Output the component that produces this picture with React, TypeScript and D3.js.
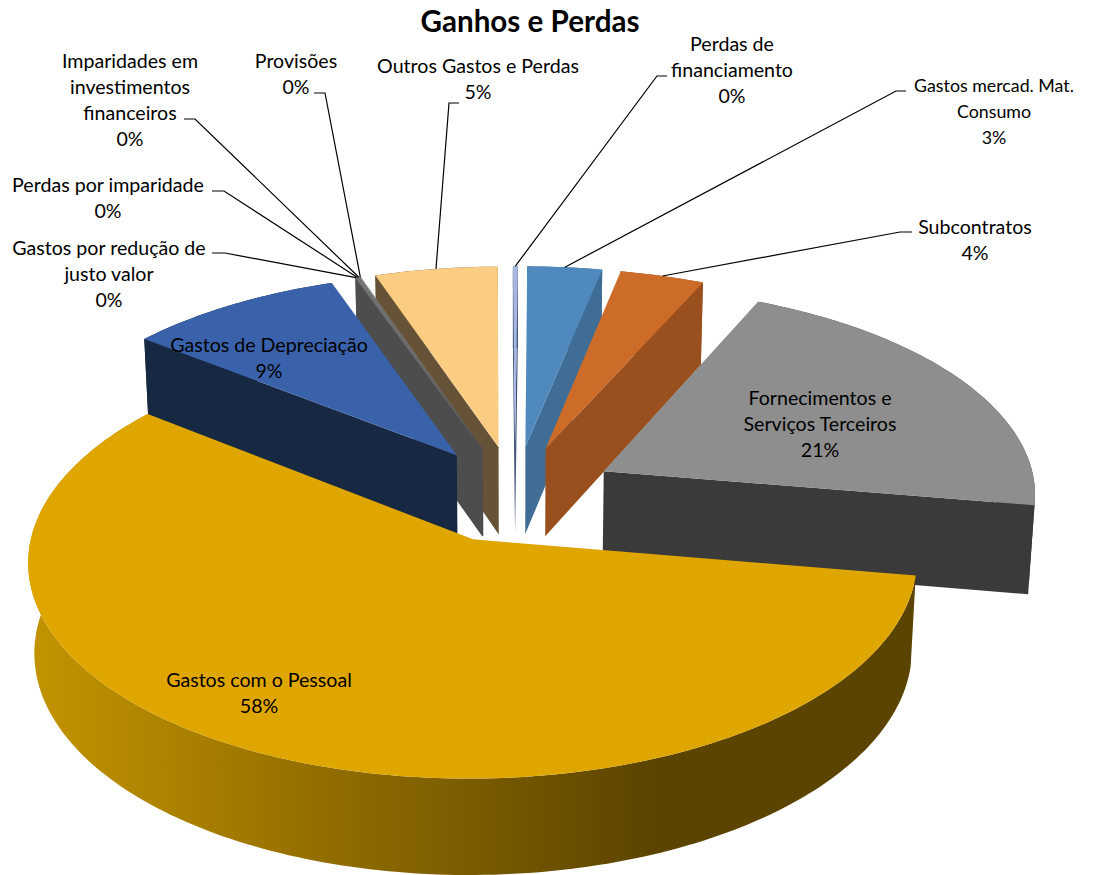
import React from 'react';
import * as d3 from 'd3';

// Chart values, in pie order (clockwise, starting with the biggest slice)
const categories = [
  'Gastos com o Pessoal',
  'Gastos de Depreciação',
  'Gastos por redução de justo valor',
  'Perdas por imparidade',
  'Imparidades em investimentos financeiros',
  'Provisões',
  'Outros Gastos e Perdas',
  'Perdas de financiamento',
  'Gastos mercad. Mat. Consumo',
  'Subcontratos',
  'Fornecimentos e Serviços Terceiros',
];
const values = [57.9, 9.0, 0.05, 0.05, 0.05, 0.05, 5.1, 0.2, 3.1, 3.5, 20.9];
const topColors = ['#e0a600', '#3a62ab', '#7f7f7f', '#7f7f7f', '#7f7f7f', '#7f7f7f', '#fbcd82', '#a6b8e2', '#4f89bd', '#cd6c29', '#8e8e8e'];
const sideColors = ['#5b4300', '#172843', '#4d4d4d', '#4d4d4d', '#4d4d4d', '#4d4d4d', '#665236', '#3d4f78', '#3f6d96', '#9a501e', '#3a3a3a'];

// Label text, split in lines, with where each block sits and its leader elbow
const labelLines = [
  ['Gastos com o Pessoal'],
  ['Gastos de Depreciação'],
  ['Gastos por redução de', 'justo valor'],
  ['Perdas por imparidade'],
  ['Imparidades em', 'investimentos', 'financeiros'],
  ['Provisões'],
  ['Outros Gastos e Perdas'],
  ['Perdas de', 'financiamento'],
  ['Gastos mercad. Mat.', 'Consumo'],
  ['Subcontratos'],
  ['Fornecimentos e', 'Serviços Terceiros'],
];
const labelCenters = [[259, 681], [269, 346], [109, 249], [108, 186], [130, 62], [296, 62], [478, 67], [732, 45], [994, 86], [975, 228], [820, 399]];
const labelSizes = [19.6, 19.6, 19.6, 19.6, 19.6, 19.6, 19.6, 19.6, 17.8, 19.6, 19.6];
const leaderElbows = [null, null, [[212, 253], [225, 253]], [[212, 191], [224, 191]], [[184, 119], [195, 119]], [[314, 93], [325, 93]], [[459, 103], [449, 103]], [[667, 76], [657, 76]], [[906, 91], [896, 91]], [[912, 232], [900, 232]], null];

const width = 1103;
const height = 875;
const lineHeight = 26;
const labelFont = 'Lato, "Open Sans", sans-serif';

// Projection of the tilted pie: unit radius, seen in slight perspective
const centerX = 515;
const centerY = 494;
const scale = 433;
const tilt = (28.5 * Math.PI) / 180;
const viewDistance = 9.06;
const explode = 0.235;
const thickness = 0.236;

const project = (x: number, y: number, z: number): [number, number] => {
  const depth = y * Math.cos(tilt) - z * Math.sin(tilt);
  const k = scale / (1 + depth / viewDistance);
  return [centerX + x * k, centerY - (y * Math.sin(tilt) + z * Math.cos(tilt)) * k];
};

const toPath = d3.line();

const pie = d3.pie<number>()
  .sort(null)
  .startAngle((99.5 * Math.PI) / 180)
  .endAngle((459.5 * Math.PI) / 180);

const slices = pie(values).map((arc, i) => {
  const mid = (arc.startAngle + arc.endAngle) / 2;
  const ox = explode * Math.sin(mid);
  const oy = explode * Math.cos(mid);
  const point = (a: number, z: number) => project(ox + Math.sin(a), oy + Math.cos(a), z);
  const steps = Math.max(2, Math.ceil((arc.endAngle - arc.startAngle) / 0.02));
  const angles = d3.range(steps + 1).map(s => arc.startAngle + ((arc.endAngle - arc.startAngle) * s) / steps);
  const apexTop = project(ox, oy, 0);
  const apexBottom = project(ox, oy, -thickness);
  const rimTop = angles.map(a => point(a, 0));
  const rimBottom = angles.map(a => point(a, -thickness));

  // Radial cut faces, kept only when they turn towards the viewer
  // (d3.polygonArea is positive for a counterclockwise ring on screen)
  const startFace: [number, number][] = [apexTop, rimTop[0], rimBottom[0], apexBottom];
  const endFace: [number, number][] = [apexTop, rimTop[steps], rimBottom[steps], apexBottom];
  const faces = [];
  if (d3.polygonArea(startFace) > 0) faces.push(startFace);
  if (d3.polygonArea(endFace) < 0) faces.push(endFace);

  return {
    i,
    mid,
    apexTop,
    rimTop,
    faces,
    wall: [...rimTop, ...rimBottom.slice().reverse()] as [number, number][],
    anchor: point(mid, 0),
  };
});

// Far slices first so the near ones paint over them
const drawOrder = slices.slice().sort((a, b) => Math.cos(b.mid) - Math.cos(a.mid));
const total = d3.sum(values);
const percent = d3.format('.0%');

export default function App() {
  return (
    <svg width={width} height={height} style={{ position: 'absolute', left: 0, top: 0 }}>
      <defs>
        <linearGradient id="wall-gradient" gradientUnits="userSpaceOnUse" x1={35} y1={0} x2={660} y2={0}>
          <stop offset="0" stopColor="#c29300" />
          <stop offset="1" stopColor="#5b4300" />
        </linearGradient>
      </defs>

      <text x={530} y={32} textAnchor="middle" fontFamily={labelFont} fontWeight={700} fontSize={29.6} fill="#000">
        Ganhos e Perdas
      </text>

      {drawOrder.map(s => (
        <g key={s.i}>
          <path d={toPath(s.wall) + 'Z'} fill={s.i === 0 ? 'url(#wall-gradient)' : sideColors[s.i]} />
          {s.faces.map((f, j) => (
            <path key={j} d={toPath(f) + 'Z'} fill={sideColors[s.i]} />
          ))}
          <path d={toPath([s.apexTop, ...s.rimTop]) + 'Z'} fill={topColors[s.i]} />
        </g>
      ))}

      {slices.map(s => {
        const elbow = leaderElbows[s.i];
        if (!elbow) return null;
        return (
          <path
            key={s.i}
            d={toPath([...elbow, s.anchor] as [number, number][]) as string}
            fill="none"
            stroke="#000"
            strokeWidth={1.2}
          />
        );
      })}

      {categories.map((name, i) => {
        const [cx, cy] = labelCenters[i];
        const lines = [...labelLines[i], percent(values[i] / total)];
        return (
          <text key={name} textAnchor="middle" fontFamily={labelFont} fontSize={labelSizes[i]} fill="#000">
            {lines.map((line, j) => (
              <tspan key={j} x={cx} y={cy + j * lineHeight + 6}>
                {line}
              </tspan>
            ))}
          </text>
        );
      })}
    </svg>
  );
}
